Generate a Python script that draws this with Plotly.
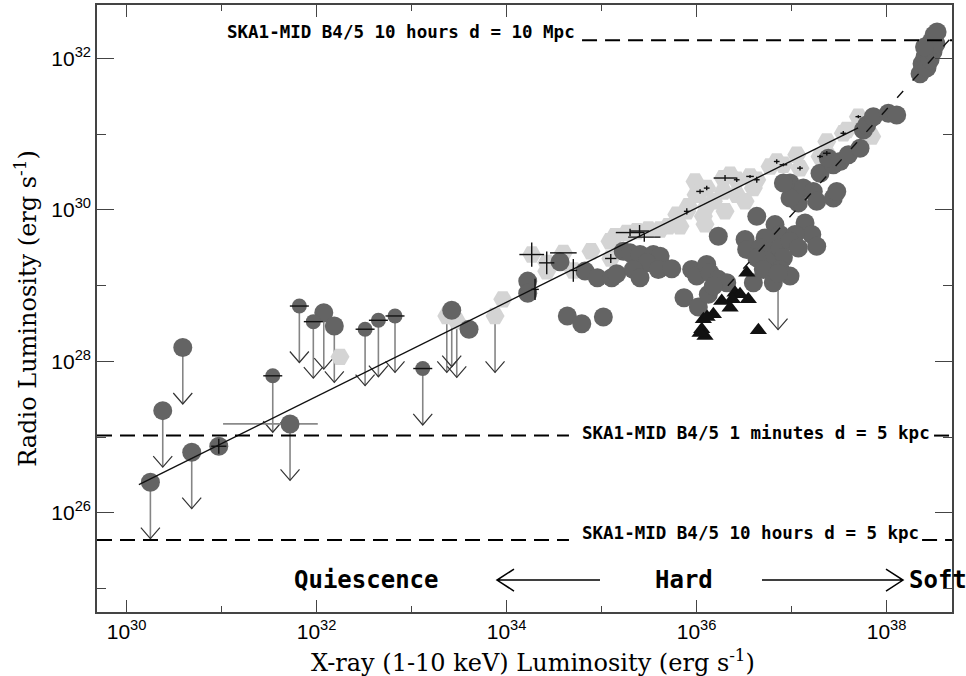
import plotly.graph_objects as go

# ---------------------------------------------------------------------------
# Data: log10 luminosities in erg/s  (x = 1-10 keV X-ray, y = radio)
# ---------------------------------------------------------------------------

# Dark circles: radio detections
circ_lx = [30.971, 33.605, 34.223, 34.223, 34.563, 34.826, 34.956, 35.107, 35.160,
           34.640, 34.792, 35.019, 35.229, 35.300, 35.405, 35.545, 35.616, 35.476,
           35.335, 35.405, 35.598, 35.739, 35.868, 35.949, 36.002, 36.107, 36.019,
           36.124, 36.142, 36.229, 36.318, 36.177, 36.229, 36.634, 36.826, 36.879,
           37.142, 37.213, 37.265, 37.037, 36.721, 36.511, 36.528, 36.668, 36.774,
           36.879, 36.984, 37.072, 36.914, 36.739, 36.634, 36.703, 36.879, 36.598,
           36.808, 36.984, 36.984, 37.037, 37.124, 37.229, 37.265, 37.072, 36.984,
           37.300, 37.440, 37.440, 37.387, 36.914, 37.476, 37.511, 37.598, 37.721,
           37.756, 37.792, 37.861, 38.019, 38.107,
           38.353, 38.374, 38.405, 38.426, 38.437, 38.458, 38.468, 38.489, 38.500,
           38.521, 38.532, 38.400]
circ_ly = [26.879, 28.424, 29.059, 28.900, 29.313, 29.191, 29.103, 29.103, 29.155,
           28.599, 28.497, 28.586, 29.454, 29.432, 29.411, 29.411, 29.388, 29.300,
           29.213, 29.103, 29.213, 29.221, 28.839, 29.213, 29.125, 29.279, 28.717,
           28.884, 29.168, 29.082, 29.037, 28.993, 29.651, 29.914, 29.805, 29.674,
           29.826, 29.674, 29.520, 29.674, 29.629, 29.608, 29.476, 29.497, 29.454,
           29.497, 29.586, 29.497, 29.366, 29.322, 29.366, 29.213, 29.213, 29.037,
           29.037, 29.125, 30.353, 30.221, 30.287, 30.243, 30.112, 30.089, 30.155,
           30.484, 30.155, 30.595, 30.682, 30.353, 30.243, 30.638, 30.726, 30.813,
           31.055, 31.121, 31.230, 31.274, 31.253,
           31.796, 31.928, 32.020, 31.875, 32.112, 31.980, 32.217, 32.086, 32.309,
           32.191, 32.349, 32.151]

# Dark circles: radio upper limits
circ_ul_lx = [30.251, 30.381, 30.592, 30.686, 31.721, 32.076, 32.187, 33.423, 36.858]
circ_ul_ly = [26.405, 27.349, 28.182, 26.800, 27.174, 28.642, 28.467, 28.674, 29.164]

# Smaller dark circles: radio upper limits with X-ray error bars
small_ul_lx = [31.539, 31.819, 31.966, 32.511, 32.651, 32.826, 33.118]
small_ul_ly = [27.809, 28.730, 28.524, 28.424, 28.542, 28.599, 27.905]
small_ul_xerr = [0.10, 0.10, 0.10, 0.10, 0.10, 0.10, 0.10]

# Light hexagons: radio detections
hex_lx = [32.247, 33.960, 34.265, 34.423, 34.423, 34.598, 34.703, 34.889, 35.089,
          35.097, 35.142, 35.265, 35.371, 35.493, 35.616, 35.703, 35.792, 35.826,
          35.897, 35.914, 35.984, 35.995, 36.037, 36.072, 36.089, 36.107, 36.107,
          36.177, 36.282, 36.282, 36.300, 36.353, 36.423, 36.423, 36.511, 36.563,
          36.598, 36.634, 36.774, 36.844, 36.914, 37.055, 37.089, 37.300, 37.371,
          37.371, 37.545, 37.581, 37.703, 37.721, 37.844]
hex_ly = [28.059, 28.818, 29.410, 29.300, 29.190, 29.432, 29.200, 29.454, 29.586,
          29.358, 29.651, 29.695, 29.717, 29.739, 29.739, 29.783, 29.937, 29.783,
          29.980, 30.046, 30.375, 30.200, 30.243, 29.914, 29.809, 30.287, 30.046,
          30.112, 30.418, 30.243, 29.980, 30.463, 30.397, 30.200, 30.112, 30.441,
          30.287, 30.397, 30.572, 30.638, 30.595, 30.726, 30.550, 30.704, 30.747,
          30.901, 31.011, 31.055, 31.230, 31.142, 30.967]

# Light hexagons: radio upper limits
hex_ul_lx = [33.371, 33.476, 33.879]
hex_ul_ly = [28.599, 28.533, 28.599]

# Black triangles
tri_lx = [36.529, 36.405, 36.458, 36.545, 36.377, 36.265, 36.353, 36.177, 36.072,
          36.111, 36.055, 36.089, 36.037, 36.651]
tri_ly = [29.168, 28.905, 28.884, 28.818, 28.818, 28.796, 28.708, 28.621, 28.555,
          28.586, 28.424, 28.336, 28.375, 28.411]

# Error bars (dex) drawn as black crosses
err_lx = [30.971, 34.265, 34.423, 34.598, 34.703, 35.097, 34.300, 35.300, 35.450,
          35.400, 36.107, 36.300, 36.423, 36.563, 36.634, 36.844, 36.914, 37.089,
          37.300, 37.371, 37.545, 37.703, 36.037, 35.897]
err_ly = [26.879, 29.410, 29.300, 29.432, 29.200, 29.358, 28.950, 29.700, 29.640,
          29.720, 30.287, 30.420, 30.397, 30.441, 30.397, 30.638, 30.595, 30.550,
          30.704, 30.747, 31.011, 31.230, 30.243, 29.980]
err_ex = [0.08, 0.13, 0.08, 0.14, 0.04, 0.06, 0.04, 0.15, 0.17, 0.10, 0.03, 0.12,
          0.03, 0.04, 0.03, 0.03, 0.04, 0.03, 0.03, 0.04, 0.03, 0.03, 0.04, 0.03]
err_ey = [0.10, 0.16, 0.15, 0.00, 0.15, 0.06, 0.14, 0.05, 0.06, 0.08, 0.03, 0.04,
          0.03, 0.02, 0.04, 0.03, 0.02, 0.03, 0.02, 0.03, 0.03, 0.02, 0.03, 0.04]

# Wide X-ray range on one quiescent upper limit (dex below / above)
wide_lx, wide_ly, wide_minus, wide_plus = [31.721], [27.174], [0.705], [0.292]

# Correlation fits: log L_R = norm + slope * (log L_X - pivot)
fit_solid = dict(pivot=30.132, norm=26.375, slope=0.622, lo=30.13, hi=37.70)
fit_dashed = dict(pivot=36.405, norm=29.103, slope=1.393, lo=36.33, hi=38.689)

# SKA1-MID band 4/5 sensitivity levels (log erg/s)
ska_10h_10mpc = 32.24
ska_1min_5kpc = 27.02
ska_10h_5kpc = 25.64

x_range = [29.689, 38.689]
y_range = [24.691, 32.704]

# ---------------------------------------------------------------------------
ARROW_LEN = 0.745   # length of upper-limit arrows, dex
HEAD_DX, HEAD_DY = 0.10, 0.145

DARK = "#646464"
LIGHT = "#d4d4d4"


def p10(v):
    return [10.0 ** a for a in v]


def arrow_paths(lx, ly):
    sx, sy, hx, hy = [], [], [], []
    for x, y in zip(lx, ly):
        tip = y - ARROW_LEN
        sx += [10.0 ** x, 10.0 ** x, None]
        sy += [10.0 ** y, 10.0 ** tip, None]
        hx += [10.0 ** (x - HEAD_DX), 10.0 ** x, 10.0 ** (x + HEAD_DX), None]
        hy += [10.0 ** (tip + HEAD_DY), 10.0 ** tip, 10.0 ** (tip + HEAD_DY), None]
    return sx, sy, hx, hy


def cross_paths(lx, ly, ex, ey):
    xs, ys = [], []
    for x, y, a, b in zip(lx, ly, ex, ey):
        if a > 0:
            xs += [10.0 ** (x - a), 10.0 ** (x + a), None]
            ys += [10.0 ** y, 10.0 ** y, None]
        if b > 0:
            xs += [10.0 ** x, 10.0 ** x, None]
            ys += [10.0 ** (y - b), 10.0 ** (y + b), None]
    return xs, ys


def fit_line(f):
    xs = [f["lo"], f["hi"]]
    ys = [f["norm"] + f["slope"] * (v - f["pivot"]) for v in xs]
    return p10(xs), p10(ys)


fig = go.Figure()

# upper-limit arrows (under the markers)
all_ul_lx = circ_ul_lx + small_ul_lx + hex_ul_lx
all_ul_ly = circ_ul_ly + small_ul_ly + hex_ul_ly
sx, sy, hx, hy = arrow_paths(all_ul_lx, all_ul_ly)
fig.add_trace(go.Scatter(x=sx, y=sy, mode="lines",
                         line=dict(color="#858585", width=1.6), hoverinfo="skip"))
fig.add_trace(go.Scatter(x=hx, y=hy, mode="lines",
                         line=dict(color="#333333", width=1.2), hoverinfo="skip"))

# wide gray X-ray bar
wx, wy = [], []
for x, y, m, p in zip(wide_lx, wide_ly, wide_minus, wide_plus):
    wx += [10.0 ** (x - m), 10.0 ** (x + p), None]
    wy += [10.0 ** y, 10.0 ** y, None]
fig.add_trace(go.Scatter(x=wx, y=wy, mode="lines",
                         line=dict(color="#8a8a8a", width=1.6), hoverinfo="skip"))

# light hexagons
fig.add_trace(go.Scatter(x=p10(hex_lx + hex_ul_lx), y=p10(hex_ly + hex_ul_ly),
                         mode="markers",
                         marker=dict(symbol="hexagon2", size=19, color=LIGHT,
                                     line=dict(width=0))))

# dark circles
fig.add_trace(go.Scatter(x=p10(circ_lx + circ_ul_lx), y=p10(circ_ly + circ_ul_ly),
                         mode="markers",
                         marker=dict(symbol="circle", size=19, color=DARK,
                                     line=dict(width=0))))
fig.add_trace(go.Scatter(x=p10(small_ul_lx), y=p10(small_ul_ly), mode="markers",
                         marker=dict(symbol="circle", size=15, color=DARK,
                                     line=dict(width=0))))

# black triangles
fig.add_trace(go.Scatter(x=p10(tri_lx), y=p10(tri_ly), mode="markers",
                         marker=dict(symbol="triangle-up", size=15, color="#111111",
                                     line=dict(width=0))))

# error bars
cx, cy = cross_paths(err_lx, err_ly, err_ex, err_ey)
bx, by = cross_paths(small_ul_lx, small_ul_ly, small_ul_xerr, [0] * len(small_ul_lx))
fig.add_trace(go.Scatter(x=cx + bx, y=cy + by, mode="lines",
                         line=dict(color="#111111", width=1.4), hoverinfo="skip"))

# correlation fits
fx, fy = fit_line(fit_solid)
fig.add_trace(go.Scatter(x=fx, y=fy, mode="lines",
                         line=dict(color="#111111", width=1.4), hoverinfo="skip"))
fx, fy = fit_line(fit_dashed)
fig.add_trace(go.Scatter(x=fx, y=fy, mode="lines",
                         line=dict(color="#111111", width=1.4, dash="9px,14px"),
                         hoverinfo="skip"))

# ---------------------------------------------------------------------------
# Sensitivity lines (paper-spanning segments at fixed radio luminosity)
dash_style = dict(color="black", width=2, dash="15px,8px")
sens_segments = [
    (ska_10h_10mpc, 0.5673, 1.0),
    (ska_1min_5kpc, 0.0, 0.5520),
    (ska_1min_5kpc, 0.9790, 1.0),
    (ska_10h_5kpc, 0.0, 0.5520),
    (ska_10h_5kpc, 0.9650, 1.0),
]
shapes = []
for lvl, a, b in sens_segments:
    shapes.append(dict(type="line", xref="paper", yref="y", x0=a, x1=b,
                       y0=10.0 ** lvl, y1=10.0 ** lvl, line=dash_style, layer="above"))


# Quiescence / Hard / Soft arrows (paper coordinates)
def px(v):
    return (v - 97) / 855


def py(v):
    return (612 - v) / 609


ay = py(580)
left_arrow = (f"M{px(600)},{ay} L{px(497)},{ay} "
              f"M{px(514)},{py(569)} L{px(497)},{ay} L{px(514)},{py(591)}")
right_arrow = (f"M{px(762)},{ay} L{px(903)},{ay} "
               f"M{px(886)},{py(569)} L{px(903)},{ay} L{px(886)},{py(591)}")
for pth in (left_arrow, right_arrow):
    shapes.append(dict(type="path", xref="paper", yref="paper", path=pth,
                       line=dict(color="black", width=1.5)))

mono = dict(family="DejaVu Sans Mono", size=17.5, color="black", weight="bold")
big_mono = dict(family="DejaVu Sans Mono", size=24, color="black", weight="bold")
serif = dict(family="DejaVu Serif", size=24, color="black")
annotations = [
    dict(text="SKA1-MID B4/5 10 hours d = 10 Mpc", x=px(577), y=py(30),
         xanchor="right", yanchor="middle", font=mono),
    dict(text="SKA1-MID B4/5 1 minutes d = 5 kpc", x=px(580), y=py(432),
         xanchor="left", yanchor="middle", font=mono),
    dict(text="SKA1-MID B4/5 10 hours d = 5 kpc", x=px(580), y=py(533),
         xanchor="left", yanchor="middle", font=mono),
    dict(text="Quiescence", x=px(366), y=py(580), xanchor="center",
         yanchor="middle", font=big_mono),
    dict(text="Hard", x=px(684), y=py(580), xanchor="center",
         yanchor="middle", font=big_mono),
    dict(text="Soft", x=px(938), y=py(580), xanchor="center",
         yanchor="middle", font=big_mono),
    dict(text="X-ray (1-10 keV) Luminosity (erg s<sup>-1</sup>)", x=px(309),
         y=py(661), xanchor="left", yanchor="middle", font=serif),
]
for a in annotations:
    a.update(xref="paper", yref="paper", showarrow=False)

axis_common = dict(
    type="log", showgrid=False, zeroline=False, showline=True,
    linecolor="#444444", linewidth=1.5, mirror="ticks", ticks="inside",
    tickcolor="#444444", tickwidth=1.3,
    tickfont=dict(family="Liberation Sans", size=21, color="black"),
)

x_major = [30, 32, 34, 36, 38]
x_minor = [31, 33, 35, 37]
y_major = [26, 28, 30, 32]
y_minor = [25, 27, 29, 31]

fig.update_xaxes(
    **axis_common, range=x_range, ticklen=12,
    tickvals=[10.0 ** v for v in x_major],
    ticktext=[f"10<sup>{v}</sup>" for v in x_major],
    minor=dict(tickvals=[10.0 ** v for v in x_minor], ticks="inside", ticklen=6,
               tickcolor="#444444", tickwidth=1.3),
)
fig.update_yaxes(
    **axis_common, range=y_range, ticklen=17,
    tickvals=[10.0 ** v for v in y_major],
    ticktext=[f"10<sup>{v}</sup>" for v in y_major],
    minor=dict(tickvals=[10.0 ** v for v in y_minor], ticks="inside", ticklen=9,
               tickcolor="#444444", tickwidth=1.3),
    title=dict(text="Radio Luminosity (erg s<sup>-1</sup>)", font=serif, standoff=8),
)

fig.update_layout(
    width=966, height=676,
    margin=dict(l=97, r=14, t=3, b=64),
    paper_bgcolor="white", plot_bgcolor="white",
    showlegend=False,
    shapes=shapes, annotations=annotations,
)

fig.write_html("out.html")
